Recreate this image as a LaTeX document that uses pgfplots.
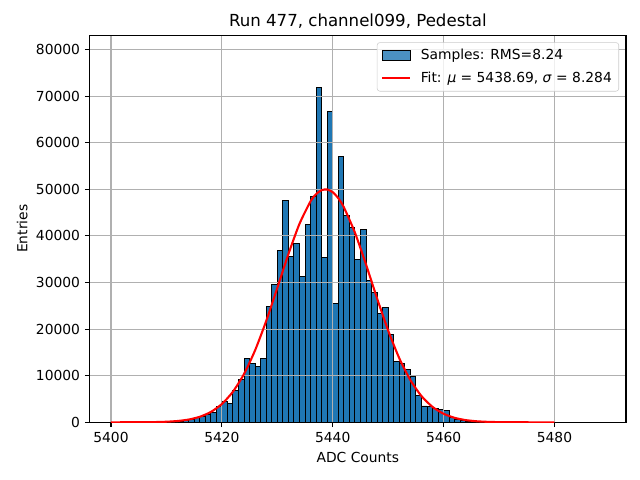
\documentclass[border=0pt]{standalone}
\usepackage{fontspec}
\setmainfont{DejaVu Sans}
\usepackage{pgfplots}
\pgfplotsset{compat=1.18}
\definecolor{tabblue}{HTML}{1F77B4}
\definecolor{gridgray}{HTML}{B0B0B0}
\definecolor{legedge}{HTML}{CCCCCC}
\begin{document}
\begin{tikzpicture}
\begin{axis}[
  set layers=standard,
  at={(0,0)}, anchor=south west,
  width=5.363in, height=3.87in, scale only axis,
  xmin=5396.16, xmax=5492.9,
  ymin=0, ymax=83050,
  xtick={5400,5420,5440,5460,5480},
  ytick={0,10000,20000,30000,40000,50000,60000,70000,80000},
  scaled ticks=false,
  /pgf/number format/1000 sep={},
  /pgf/number format/assume math mode=true,
  tick label style={font=\fontsize{10}{12}\selectfont},
  tick align=outside,
  xtick pos=left, ytick pos=left,
  major tick length=3.5pt,
  tick style={black, line width=0.8pt},
  axis line style={black, line width=0.8pt},
  grid=major,
  major grid style={gridgray, line width=0.8pt},
  every axis title shift=0pt,
  title={Run 477, channel099, Pedestal},
  title style={font=\fontsize{12}{14}\selectfont, at={(axis description cs:0.5,1.037)}, anchor=center},
  xlabel={ADC Counts},
  xlabel style={font=\fontsize{10}{12}\selectfont, at={(axis description cs:0.5,-0.0897)}, anchor=center},
  ylabel={Entries},
  ylabel style={font=\fontsize{10}{12}\selectfont, at={(axis description cs:-0.126,0.5)}, anchor=center},
  legend cell align=left,
  legend style={at={(axis description cs:0.987,0.982)}, anchor=north east,
    draw=legedge, rounded corners=2pt, fill=white, fill opacity=0.8, text opacity=1,
    font=\fontsize{10}{12}\selectfont, row sep=3pt, inner xsep=3pt, inner ysep=3pt},
]
\addplot[ybar interval, fill=tabblue, draw=black, line width=0.7pt, on layer=axis background,
  legend image code/.code={\draw[sharp corners, fill=tabblue, draw=black, line width=0.7pt] (0pt,-3.5pt) rectangle (20pt,3.5pt); \path (25pt,0pt);}]
coordinates {
(5410,30) (5411,90) (5412,220) (5413,400) (5414,600) (5415,1000) (5416,1300) (5417,1700)
(5418,2100) (5419,3300) (5420,4400) (5421,4100) (5422,6800) (5423,9200) (5424,13700)
(5425,12700) (5426,12000) (5427,13700) (5428,24900) (5429,29600) (5430,36900) (5431,47600)
(5432,35600) (5433,38400) (5434,31300) (5435,42400) (5436,48500) (5437,71800) (5438,35300)
(5439,66700) (5440,25500) (5441,57000) (5442,44400) (5443,41900) (5444,34900) (5445,41300)
(5446,30500) (5447,27800) (5448,23300) (5449,24600) (5450,18800) (5451,13000) (5452,12700)
(5453,11400) (5454,9900) (5455,5800) (5456,3500) (5457,3300) (5458,3000) (5459,2700)
(5460,2500) (5461,950) (5462,600) (5463,300) (5464,150) (5465,60) (5466,0)
};
\addlegendentry{Samples: RMS=8.24}
\addplot[red, line width=1.5pt, smooth, tension=0.4,
  legend image code/.code={\draw[sharp corners, red, line width=1.5pt] (0pt,0pt) -- (20pt,0pt); \path (25pt,0pt);}]
coordinates {
(5400,0.9) (5403,5) (5405,13) (5408,52) (5410,124) (5412,279) (5414,589) (5416,1175)
(5418,2209) (5420,3923) (5422,6566) (5424,10378) (5426,15470) (5428,21745) (5430,28840)
(5432,36086) (5434,42595) (5436,47432) (5437,48970) (5438,49827) (5439,49965) (5440,49379)
(5441,48093) (5442,46163) (5444,40715) (5446,33876) (5448,26590) (5450,19688) (5452,13753)
(5454,9063) (5456,5634) (5458,3304) (5460,1829) (5462,954) (5464,470) (5466,218) (5468,96)
(5470,40) (5473,9) (5476,2) (5480,0.3)
};
\addlegendentry{Fit: \textit{μ} = 5438.69, \textit{σ} = 8.284}
\end{axis}
\path[use as bounding box] (-0.897in,-0.577in) rectangle (5.503in,4.223in);
\end{tikzpicture}
\end{document}
